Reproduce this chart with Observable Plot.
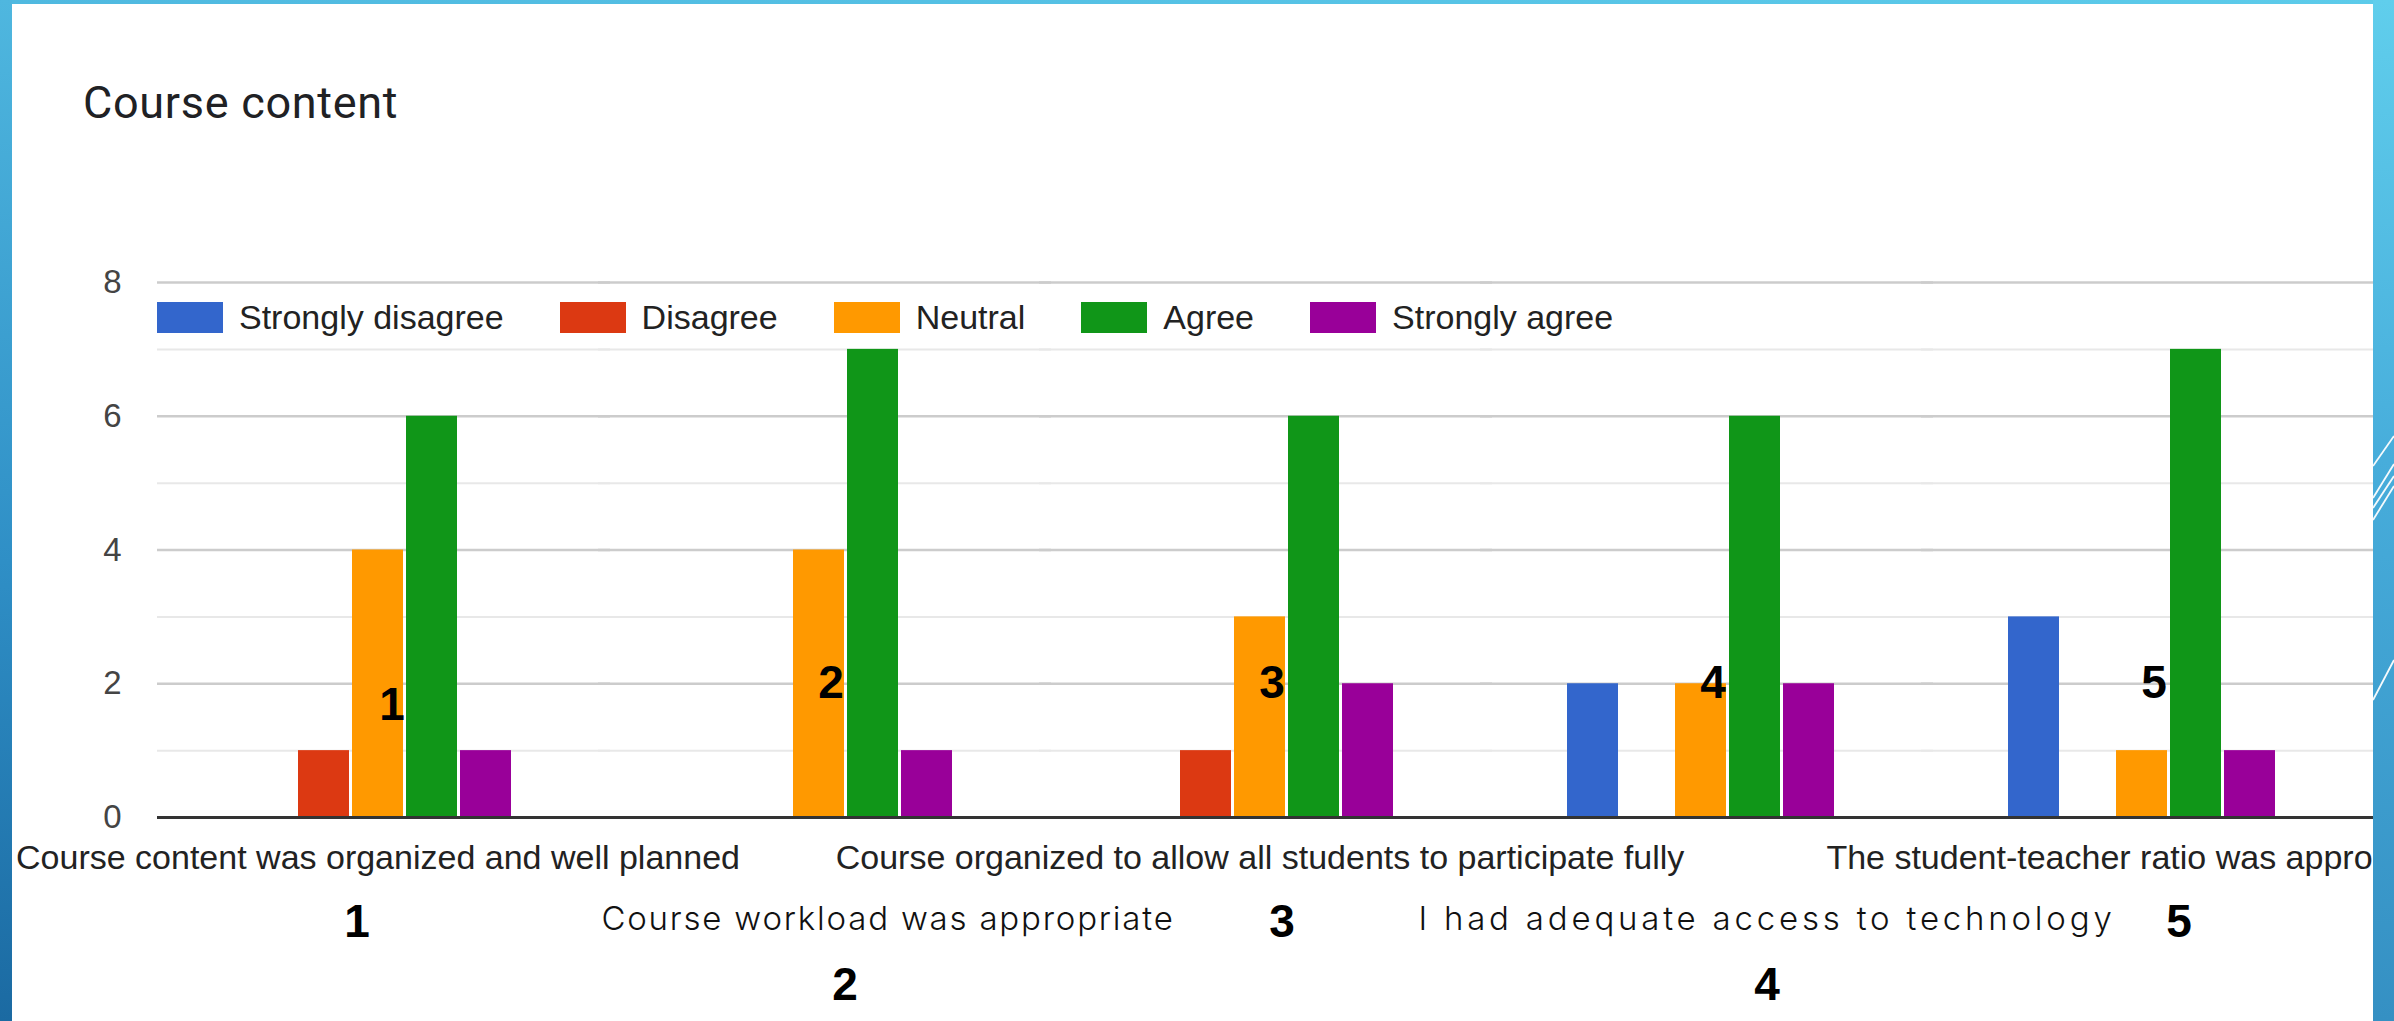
<!DOCTYPE html>
<html>
<head>
<meta charset="utf-8">
<script src="https://cdn.jsdelivr.net/npm/d3@7"></script>
<script src="https://cdn.jsdelivr.net/npm/@observablehq/plot@0.6"></script>
<style>
  html, body { margin: 0; padding: 0; }
  body { width: 2394px; height: 1021px; position: relative; overflow: hidden; background: #2f8cc2; }
  #panel { position: absolute; left: 12px; top: 4px; width: 2361px; height: 1017px; background: #ffffff; }
  #leftEdge { position: absolute; left: 0; top: 0; width: 12px; height: 1021px;
    background: linear-gradient(180deg, #4fb7df 0%, #2f8fc6 55%, #1b6aa2 100%); z-index: 5; }
  #rightEdge { position: absolute; left: 2373px; top: 0; width: 21px; height: 1021px;
    background: linear-gradient(180deg, #60ceec 0%, #47addb 45%, #3590c3 100%); z-index: 5; }
  #topEdge { position: absolute; left: 0; top: 0; width: 2394px; height: 4px;
    background: linear-gradient(90deg, #4fb9e0, #5ccbea); z-index: 5; }
  #title { position: absolute; left: 83px; top: 80px; font-family: Roboto, "Liberation Sans", sans-serif;
    font-size: 45px; line-height: 45px; letter-spacing: 0.7px; color: #202124; z-index: 3; white-space: nowrap; }
  #chart { position: absolute; left: 0; top: 150px; z-index: 2; }
  #legend { position: absolute; left: 157px; top: 302px; height: 31px; display: flex; align-items: center;
    font-family: "Liberation Sans", Arial, sans-serif; font-size: 34px; color: #222; z-index: 3; white-space: nowrap; }
  #legend .item { display: flex; align-items: center; margin-right: 56px; }
  #legend .sw { width: 66px; height: 31px; margin-right: 16px; }
  .slide-overlay text { letter-spacing: 1.8px; }
  .slide-overlay-wide text { letter-spacing: 3.8px; }
</style>
</head>
<body>
<div id="panel"></div>
<div id="title">Course content</div>
<div id="chart"></div>
<div id="legend"></div>
<div id="topEdge"></div>
<div id="leftEdge"></div>
<div id="rightEdge">
  <svg width="21" height="1021" style="display:block">
    <g stroke="#ffffff" stroke-width="1.8" fill="none" opacity="0.95">
      <line x1="21" y1="436" x2="0" y2="466"/>
      <line x1="21" y1="464" x2="0" y2="498"/>
      <line x1="21" y1="476" x2="0" y2="508"/>
      <line x1="21" y1="486" x2="0" y2="520"/>
      <line x1="21" y1="660" x2="0" y2="700"/>
    </g>
  </svg>
</div>
<script>
// ---- data ----
const questions = [
  "Course content was organized and well planned",
  "Course workload was appropriate",
  "Course organized to allow all students to participate fully",
  "I had adequate access to technology",
  "The student-teacher ratio was appropriate"
];
const responses = ["Strongly disagree", "Disagree", "Neutral", "Agree", "Strongly agree"];
const colors = ["#3366cc", "#dc3912", "#ff9900", "#109618", "#990099"];
const stronglyDisagree = [0, 0, 0, 2, 3];
const disagree         = [1, 0, 1, 0, 0];
const neutral          = [4, 4, 3, 2, 1];
const agree            = [6, 7, 6, 6, 7];
const stronglyAgree    = [1, 1, 2, 2, 1];
const yTicks = [0, 2, 4, 6, 8];
const minorTicks = [1, 3, 5, 7];
const slideNumbers = ["1", "2", "3", "4", "5"];

const series = [stronglyDisagree, disagree, neutral, agree, stronglyAgree];
const data = questions.flatMap((q, i) =>
  responses.map((r, j) => ({question: q, response: r, count: series[j][i]}))
).filter(d => d.count > 0);

const numFont = {fontFamily: "'Liberation Sans', Arial, sans-serif", fontWeight: "bold", fontSize: 46, fill: "#000"};
const overlayFont = {fontFamily: "Inter, 'DejaVu Sans', sans-serif", fontWeight: 300, fontSize: 33, fill: "#111"};

// bottom annotation for question i
const bottomNumber = (i, dx, dy) => Plot.text([slideNumbers[i]], {
  fx: () => questions[i], text: d => d, frameAnchor: "bottom", dx, dy, ...numFont
});
const overlayLabel = (i, dx, dy, className) => Plot.text([questions[i]], {
  fx: d => d, text: d => d, frameAnchor: "bottom", dx, dy, className, ...overlayFont
});

const chart = Plot.plot({
  width: 2394,
  height: 871,
  marginLeft: 156,
  marginRight: 32,
  marginTop: 132,
  marginBottom: 204,
  style: {fontFamily: "'Liberation Sans', Arial, sans-serif", fontSize: "34px", background: "transparent", overflow: "visible"},
  fx: {domain: questions, padding: 0, axis: null},
  x: {domain: responses, paddingInner: 0.056, paddingOuter: 1.61, axis: null},
  y: {domain: [0, 8], axis: null, label: null},
  color: {domain: responses, range: colors},
  marks: [
    Plot.ruleY(minorTicks, {stroke: "#e8e8e8", strokeWidth: 2, insetRight: -12}),
    Plot.ruleY(yTicks, {stroke: "#cccccc", strokeWidth: 2.5, insetRight: -12}),
    Plot.barY(data, {fx: "question", x: "response", y: "count", fill: "response"}),
    Plot.ruleY([0], {stroke: "#333333", strokeWidth: 3, insetRight: -12}),
    Plot.axisY(yTicks, {tickSize: 0, tickPadding: 36, fontSize: 33, color: "#444", label: null, tickFormat: d => String(d)}),
    // chart's own category labels (every other one visible)
    Plot.text(questions.filter((d, i) => i % 2 === 0), {
      fx: d => d, text: d => d, frameAnchor: "bottom", dy: 51, fontSize: 34, fill: "#222"
    }),
    // overlay labels added on the slide
    overlayLabel(1, 69, 112, "slide-overlay"),
    overlayLabel(3, 66, 112, "slide-overlay-wide"),
    // numbers inside the plot
    Plot.text([slideNumbers[0]], {fx: () => questions[0], x: () => "Neutral", y: () => 2, text: d => d, dx: 14, dy: 22, ...numFont}),
    Plot.text(slideNumbers.slice(1), {fx: (d, i) => questions[i + 1], x: () => "Neutral", y: () => 2, text: d => d, dx: 12, ...numFont}),
    // numbers below the axis
    bottomNumber(0, -21, 119),
    bottomNumber(2, 22, 119),
    bottomNumber(4, 37, 119),
    bottomNumber(1, 26, 182),
    bottomNumber(3, 66, 182)
  ]
});
document.getElementById("chart").appendChild(chart);

// legend built from the chart's color scale
const color = chart.scale("color");
const legend = document.getElementById("legend");
color.domain.forEach((name, i) => {
  const item = document.createElement("div");
  item.className = "item";
  const sw = document.createElement("div");
  sw.className = "sw";
  sw.style.background = color.range[i];
  const label = document.createElement("span");
  label.textContent = name;
  item.appendChild(sw);
  item.appendChild(label);
  legend.appendChild(item);
});
</script>
</body>
</html>
